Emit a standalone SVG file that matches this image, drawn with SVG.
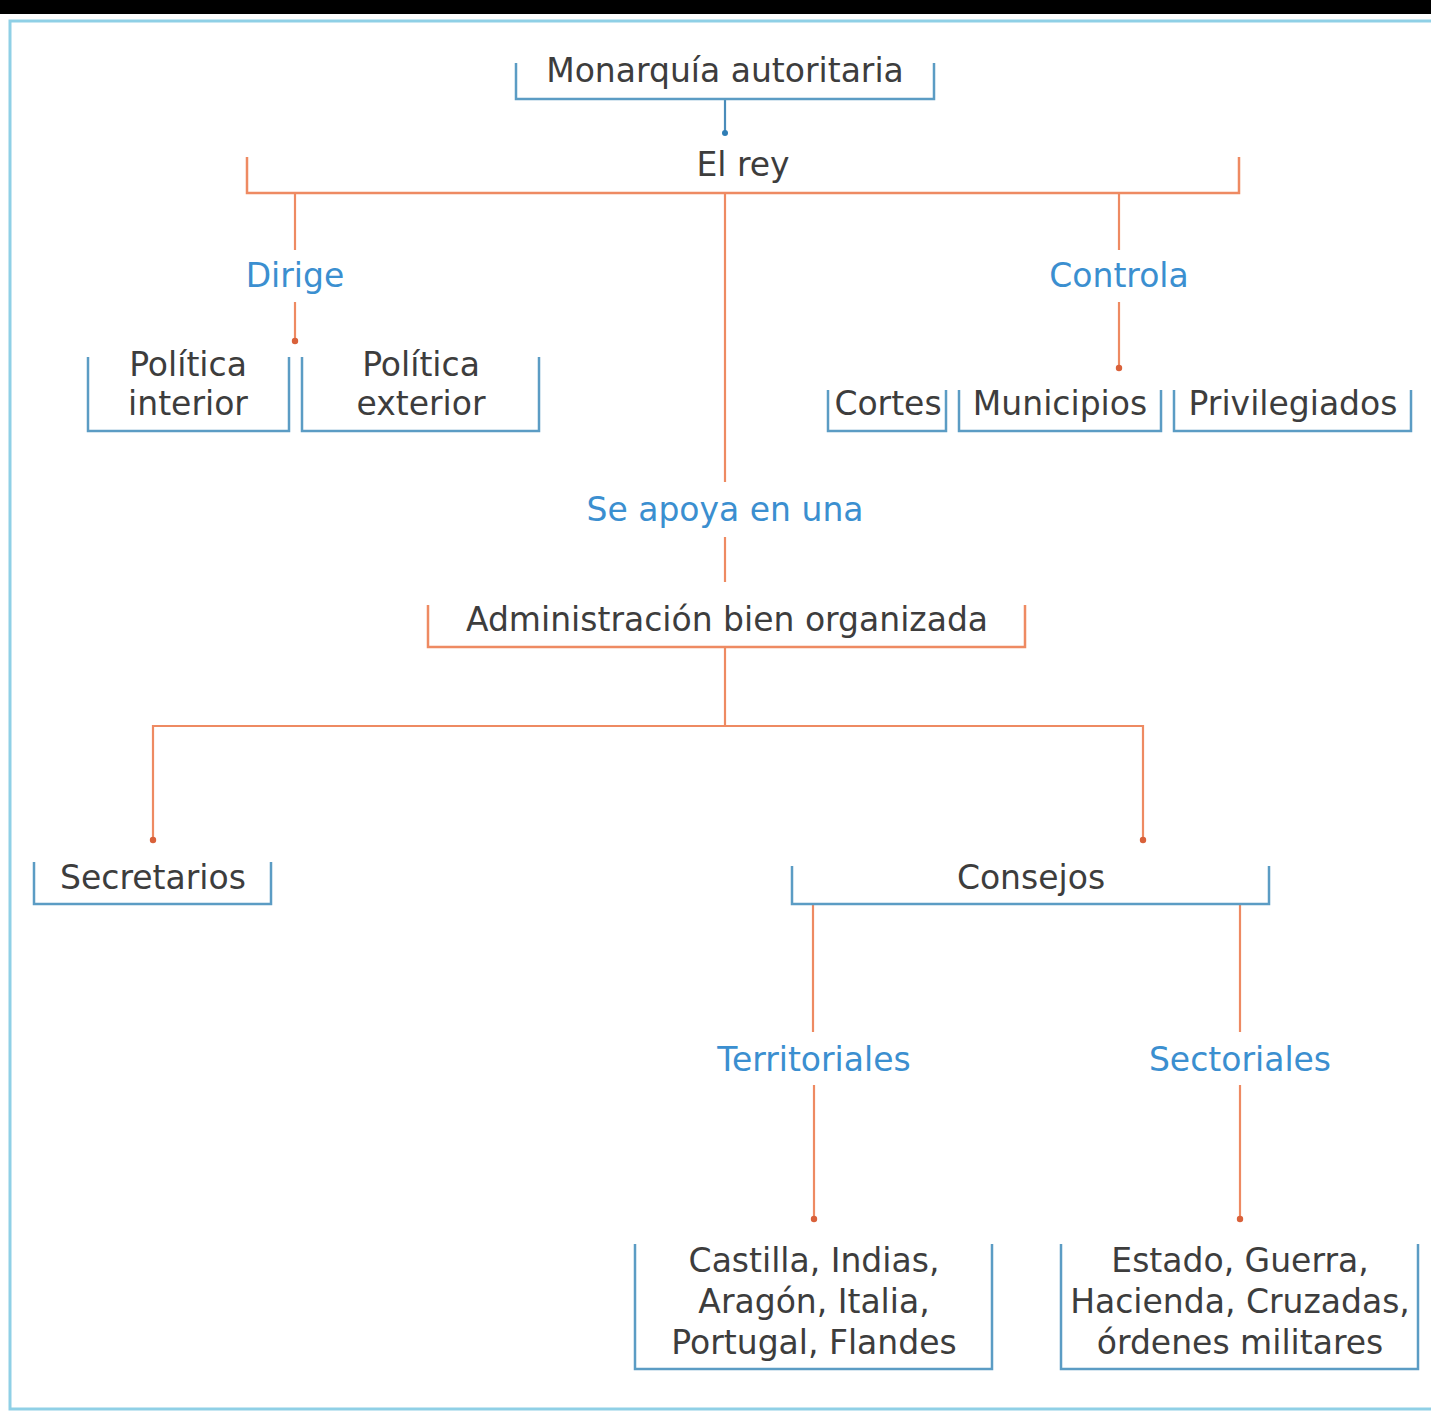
<svg xmlns="http://www.w3.org/2000/svg" width="1431" height="1411" viewBox="0 0 1431 1411">
<style>
text{font-family:"DejaVu Sans","Liberation Sans",sans-serif;font-size:33px;text-anchor:middle;fill:#3d3d3d}
.lbl{fill:#3b8fd0}
.bb{fill:none;stroke:#5b9cc4;stroke-width:2.5}
.ob{fill:none;stroke:#ee8a62;stroke-width:2.5}
.ol{fill:none;stroke:#ee8a62;stroke-width:2.2}
.bl{fill:none;stroke:#4a8cba;stroke-width:2.2}
.dot{fill:#d9613a}
.bdot{fill:#2f7db5}
</style>
<rect x="0" y="0" width="1431" height="1411" fill="#ffffff"/>
<rect x="0" y="0" width="1431" height="14" fill="#000000"/>
<path d="M1431 21 H10 V1409 H1431" fill="none" stroke="#8fd0e6" stroke-width="3"/>

<g id="connectors">
  <line class="bl" x1="725" y1="99" x2="725" y2="132"/>
  <circle class="bdot" cx="725" cy="133" r="3"/>
  <line class="ol" x1="295" y1="193" x2="295" y2="250"/>
  <line class="ol" x1="295" y1="302" x2="295" y2="340"/>
  <circle class="dot" cx="295" cy="341" r="3.2"/>
  <line class="ol" x1="725" y1="193" x2="725" y2="482"/>
  <line class="ol" x1="725" y1="537" x2="725" y2="582"/>
  <line class="ol" x1="1119" y1="193" x2="1119" y2="250"/>
  <line class="ol" x1="1119" y1="302" x2="1119" y2="367"/>
  <circle class="dot" cx="1119" cy="368" r="3.2"/>
  <line class="ol" x1="725" y1="647" x2="725" y2="726"/>
  <path class="ol" d="M153 840 V726 H1143 V840"/>
  <circle class="dot" cx="153" cy="840" r="3.2"/>
  <circle class="dot" cx="1143" cy="840" r="3.2"/>
  <line class="ol" x1="813" y1="904" x2="813" y2="1032"/>
  <line class="ol" x1="1240" y1="904" x2="1240" y2="1032"/>
  <line class="ol" x1="814" y1="1085" x2="814" y2="1218"/>
  <circle class="dot" cx="814" cy="1219" r="3.2"/>
  <line class="ol" x1="1240" y1="1085" x2="1240" y2="1218"/>
  <circle class="dot" cx="1240" cy="1219" r="3.2"/>
  <text class="lbl" x="295" y="287">Dirige</text>
  <text class="lbl" x="1119" y="287">Controla</text>
  <text class="lbl" x="725" y="521">Se apoya en una</text>
  <text class="lbl" x="814" y="1071">Territoriales</text>
  <text class="lbl" x="1240" y="1071">Sectoriales</text>
</g>

<g id="monarquia">
  <path class="bb" d="M516 63 V99 H934 V63"/>
  <text x="725" y="82">Monarquía autoritaria</text>
</g>
<g id="rey">
  <path class="ob" d="M247 157 V193 H1239 V157"/>
  <text x="743" y="176">El rey</text>
</g>
<g id="pol-interior">
  <path class="bb" d="M88 357 V431 H289 V357"/>
  <text x="188" y="376">Política</text>
  <text x="188" y="415">interior</text>
</g>
<g id="pol-exterior">
  <path class="bb" d="M302 357 V431 H539 V357"/>
  <text x="421" y="376">Política</text>
  <text x="421" y="415">exterior</text>
</g>
<g id="cortes">
  <path class="bb" d="M828 390 V431 H946 V390"/>
  <text x="888" y="415">Cortes</text>
</g>
<g id="municipios">
  <path class="bb" d="M959 390 V431 H1161 V390"/>
  <text x="1060" y="415">Municipios</text>
</g>
<g id="privilegiados">
  <path class="bb" d="M1174 390 V431 H1411 V390"/>
  <text x="1293" y="415">Privilegiados</text>
</g>
<g id="administracion">
  <path class="ob" d="M428 605 V647 H1025 V605"/>
  <text x="727" y="631">Administración bien organizada</text>
</g>
<g id="secretarios">
  <path class="bb" d="M34 862 V904 H271 V862"/>
  <text x="153" y="889">Secretarios</text>
</g>
<g id="consejos">
  <path class="bb" d="M792 866 V904 H1269 V866"/>
  <text x="1031" y="889">Consejos</text>
</g>
<g id="territoriales-list">
  <path class="bb" d="M635 1244 V1369 H992 V1244"/>
  <text x="814" y="1272">Castilla, Indias,</text>
  <text x="814" y="1313">Aragón, Italia,</text>
  <text x="814" y="1354">Portugal, Flandes</text>
</g>
<g id="sectoriales-list">
  <path class="bb" d="M1061 1244 V1369 H1418 V1244"/>
  <text x="1240" y="1272">Estado, Guerra,</text>
  <text x="1240" y="1313">Hacienda, Cruzadas,</text>
  <text x="1240" y="1354">órdenes militares</text>
</g>
</svg>
